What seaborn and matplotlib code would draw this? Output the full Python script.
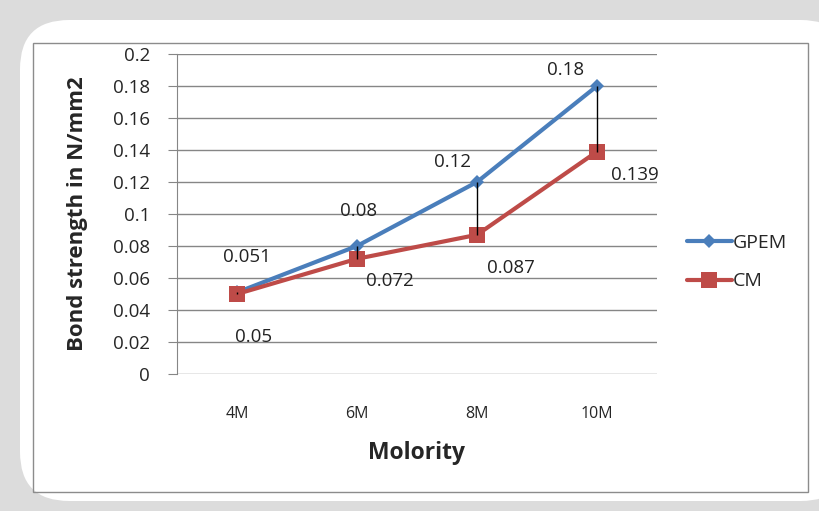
import numpy as np
import matplotlib
matplotlib.use("Agg")
import matplotlib.pyplot as plt
import pandas as pd
import seaborn as sns
from matplotlib.patches import FancyBboxPatch, Rectangle

# data
categories = ['4M', '6M', '8M', '10M']
gpem = [0.051, 0.08, 0.12, 0.18]
cm = [0.05, 0.072, 0.087, 0.139]
# label offsets (pixels) for data labels
gpem_off = [(10, 35), (2, 35), (-24, 20), (-31, 16)]
cm_off = [(17, -43), (33, -22), (34, -33), (38, -23)]

df = pd.DataFrame({'Molority': categories * 2,
                   'value': gpem + cm,
                   'series': ['GPEM'] * 4 + ['CM'] * 4})

sns.set_style("white")
plt.rcParams['font.family'] = ['Open Sans', 'DejaVu Sans']

fig = plt.figure(figsize=(8.2, 5.11), dpi=100)
fig.patch.set_facecolor('#dcdcdc')

# white rounded card and inner border
card = FancyBboxPatch((20 / 820, 10 / 511), 830 / 820, 481 / 511,
                      boxstyle="round,pad=0,rounding_size=0.06",
                      transform=fig.transFigure, facecolor='white',
                      edgecolor='none', zorder=-2, mutation_aspect=820 / 511)
fig.patches.append(card)
border = Rectangle((33 / 820, 19 / 511), 775 / 820, 449 / 511,
                   transform=fig.transFigure, facecolor='none',
                   edgecolor='#8c8c8c', linewidth=1.0, zorder=-1)
fig.patches.append(border)

ax = fig.add_axes([177 / 820, 1 - 374 / 511, 480 / 820, 320 / 511])
ax.set_facecolor('none')

palette = {'GPEM': '#4a7ebb', 'CM': '#be4b48'}
sns.lineplot(data=df, x='Molority', y='value', hue='series', style='series',
             markers={'GPEM': 'D', 'CM': 's'}, dashes=False, palette=palette,
             markersize=9, linewidth=3, markeredgewidth=0, ax=ax, sort=False,
             zorder=3)
for line in ax.lines:
    if line.get_marker() == 'D':
        line.set_markersize(7)
    elif line.get_marker() == 's':
        line.set_markersize(11)

# high-low lines between the two series
x = np.arange(len(categories))
ax.vlines(x, cm, gpem, colors='black', linewidth=1, zorder=4)

for i in range(len(categories)):
    ax.annotate(str(gpem[i]), (i, gpem[i]), xytext=gpem_off[i],
                textcoords='offset pixels', ha='center', va='center',
                fontsize=13.5, color='#222222')
    ax.annotate(str(cm[i]), (i, cm[i]), xytext=cm_off[i],
                textcoords='offset pixels', ha='center', va='center',
                fontsize=13.5, color='#222222')

ax.set_xlim(-0.5, 3.5)
ax.set_ylim(0, 0.2)
ax.set_yticks(np.arange(0, 0.201, 0.02))
ax.set_yticklabels(['0', '0.02', '0.04', '0.06', '0.08', '0.1', '0.12',
                    '0.14', '0.16', '0.18', '0.2'], fontsize=13.5)
ax.set_xticks(x)
ax.set_xticklabels(categories, fontsize=11.5)
ax.grid(axis='y', color='#868686', linewidth=1)
ax.set_axisbelow(True)
for side in ['top', 'right', 'bottom']:
    ax.spines[side].set_visible(False)
ax.spines['left'].set_color('#868686')
ax.tick_params(axis='y', length=6.5, color='#868686', pad=13, direction='out',
               left=True)
ax.tick_params(axis='x', length=0, pad=23)
ax.set_xlabel('Molority', fontsize=16.5, fontweight='bold', labelpad=14)
ax.set_ylabel('Bond strength in N/mm2', fontsize=16, fontweight='bold',
              labelpad=18)

h, l = ax.get_legend_handles_labels()
leg = ax.legend(h, l, loc='center left', frameon=False, fontsize=14,
                handlelength=2.3, handletextpad=0.05, labelspacing=1.06,
                borderpad=0, borderaxespad=0)
leg.set_bbox_to_anchor((1.0625, 0.35), transform=ax.transAxes)

fig.savefig('out.png', dpi=100, facecolor=fig.get_facecolor())
